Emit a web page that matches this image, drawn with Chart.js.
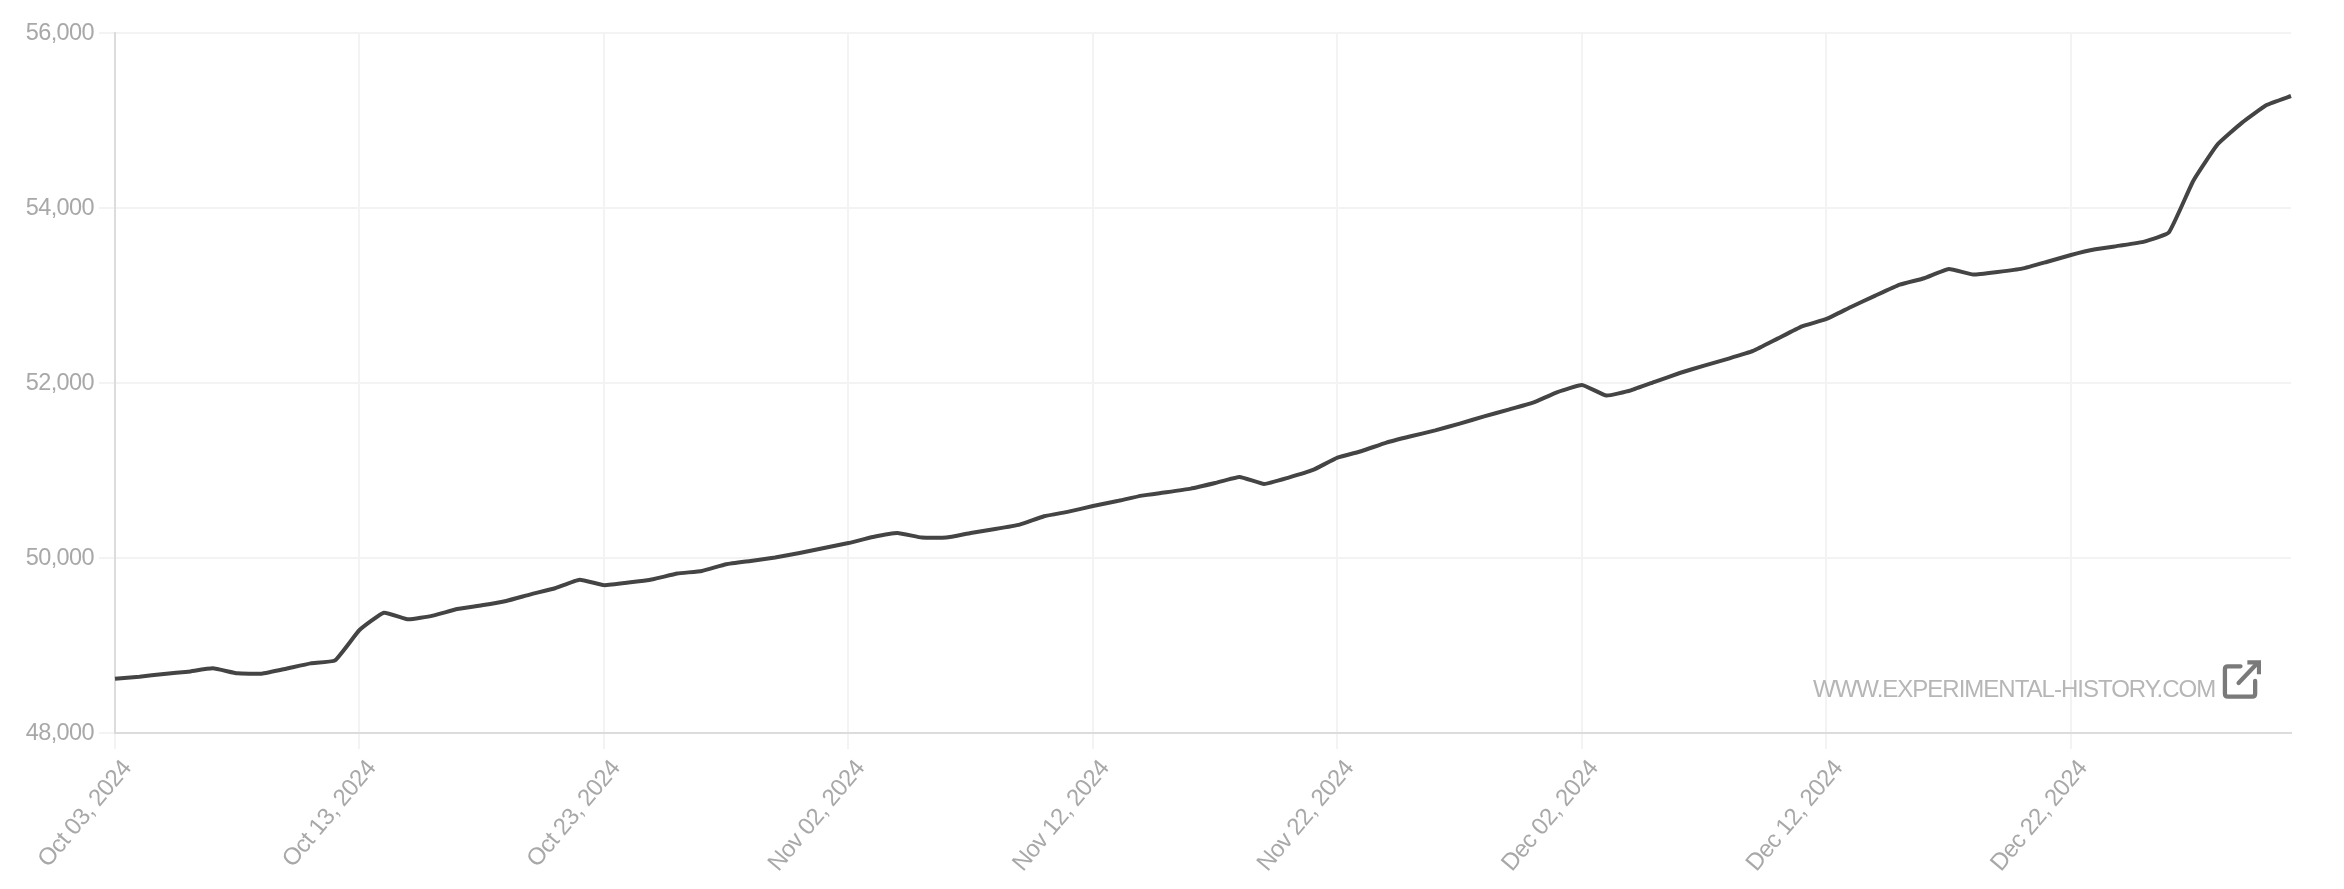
<!DOCTYPE html>
<html>
<head>
<meta charset="utf-8">
<style>
  html, body { margin: 0; padding: 0; background: #fff; }
  #wrap { position: relative; width: 2344px; height: 889px; overflow: hidden; }
  #c { position: absolute; left: 0; top: 0; }
  #mark { position: absolute; left: 1813px; top: 675px; font: 24px "Liberation Sans", Arial, sans-serif; letter-spacing: -1px; color: #b6b6b6; white-space: nowrap; line-height: 28px; }
  #icon { position: absolute; left: 2222px; top: 658px; width: 39px; height: 42px; }
</style>
<script src="https://cdn.jsdelivr.net/npm/chart.js@4"></script>
</head>
<body>
<div id="wrap">
  <canvas id="c" width="2344" height="889" style="width:2344px;height:889px"></canvas>
  <div id="mark">WWW.EXPERIMENTAL-HISTORY.COM</div>
  <svg id="icon" viewBox="0 0 40 42" fill="none" stroke="#7a7a7a" stroke-width="4.4" stroke-linecap="round" stroke-linejoin="round">
    <path d="M19 8 H6 Q3 8 3 11 V36 Q3 39 6 39 H31 Q34 39 34 36 V23"/>
    <path d="M17 25 L36 5"/>
    <path d="M26 4 H38 V16" stroke-linecap="butt" stroke-linejoin="miter"/>
  </svg>
</div>
<script>
const startDate = "2024-10-03";
const values = [
  48621, 48644, 48674, 48701, 48739, 48682, 48678, 48735, 48796, 48830,
  49177, 49375, 49299, 49341, 49417, 49459, 49509, 49585, 49654, 49752,
  49690, 49719, 49757, 49822, 49852, 49928, 49966, 50005, 50057, 50114,
  50171, 50240, 50286, 50233, 50233, 50286, 50331, 50382, 50477, 50530,
  50594, 50651, 50713, 50751, 50793, 50857, 50926, 50846, 50919, 51006,
  51147, 51223, 51319, 51391, 51459, 51536, 51619, 51696, 51776, 51897,
  51977, 51856, 51916, 52016, 52114, 52199, 52279, 52366, 52507, 52648,
  52732, 52869, 52999, 53124, 53197, 53303, 53239, 53269, 53307, 53383,
  53463, 53528, 53570, 53616, 53719, 54309, 54728, 54976, 55177, 55280
];
const yTicks = [48000, 50000, 52000, 54000, 56000];
const tickEvery = 10;
const monthNames = ["Jan","Feb","Mar","Apr","May","Jun","Jul","Aug","Sep","Oct","Nov","Dec"];

const categories = values.map((_, i) => {
  const d = new Date(startDate + "T00:00:00Z");
  d.setUTCDate(d.getUTCDate() + i);
  return monthNames[d.getUTCMonth()] + " " + String(d.getUTCDate()).padStart(2, "0") + ", " + d.getUTCFullYear();
});

const tightText = {
  id: "tightText",
  beforeDraw(chart) { chart.ctx.letterSpacing = "-0.6px"; },
  afterDatasetsDraw(chart) { chart.ctx.letterSpacing = "0px"; }
};

new Chart(document.getElementById("c"), {
  type: "line",
  plugins: [tightText],
  data: {
    labels: categories,
    datasets: [{
      data: values,
      borderColor: "#444444",
      borderWidth: 4,
      pointRadius: 0,
      tension: 0.12,
      fill: false
    }]
  },
  options: {
    responsive: false,
    animation: false,
    devicePixelRatio: 1,
    layout: { padding: { top: 33, right: 53, left: 0, bottom: 0 }, autoPadding: false },
    plugins: { legend: { display: false }, tooltip: { enabled: false } },
    scales: {
      x: {
        type: "category",
        offset: false,
        afterBuildTicks(s) { s.ticks = s.ticks.filter(t => t.value % tickEvery === 0); },
        afterFit(s) { s.height = 156; },
        grid: { color: "#f3f3f3", lineWidth: 2, tickLength: 16, drawOnChartArea: true },
        border: { color: "#dcdcdc", width: 2 },
        ticks: {
          autoSkip: false,
          maxRotation: 50,
          minRotation: 50,
          padding: 6,
          labelOffset: 12,
          color: "#a8a8a8",
          font: { family: "'Liberation Sans', Arial, sans-serif", size: 24 }
        }
      },
      y: {
        min: 48000,
        max: 56000,
        afterBuildTicks(s) { s.ticks = yTicks.map(v => ({ value: v })); },
        afterFit(s) { s.width = 115; },
        grid: { color: "#f3f3f3", lineWidth: 2, tickLength: 16 },
        border: { color: "#dcdcdc", width: 2 },
        ticks: {
          padding: 5,
          labelOffset: 1,
          color: "#a8a8a8",
          font: { family: "'Liberation Sans', Arial, sans-serif", size: 23.5 },
          callback: v => v.toLocaleString("en-US")
        }
      }
    }
  }
});
</script>
</body>
</html>
